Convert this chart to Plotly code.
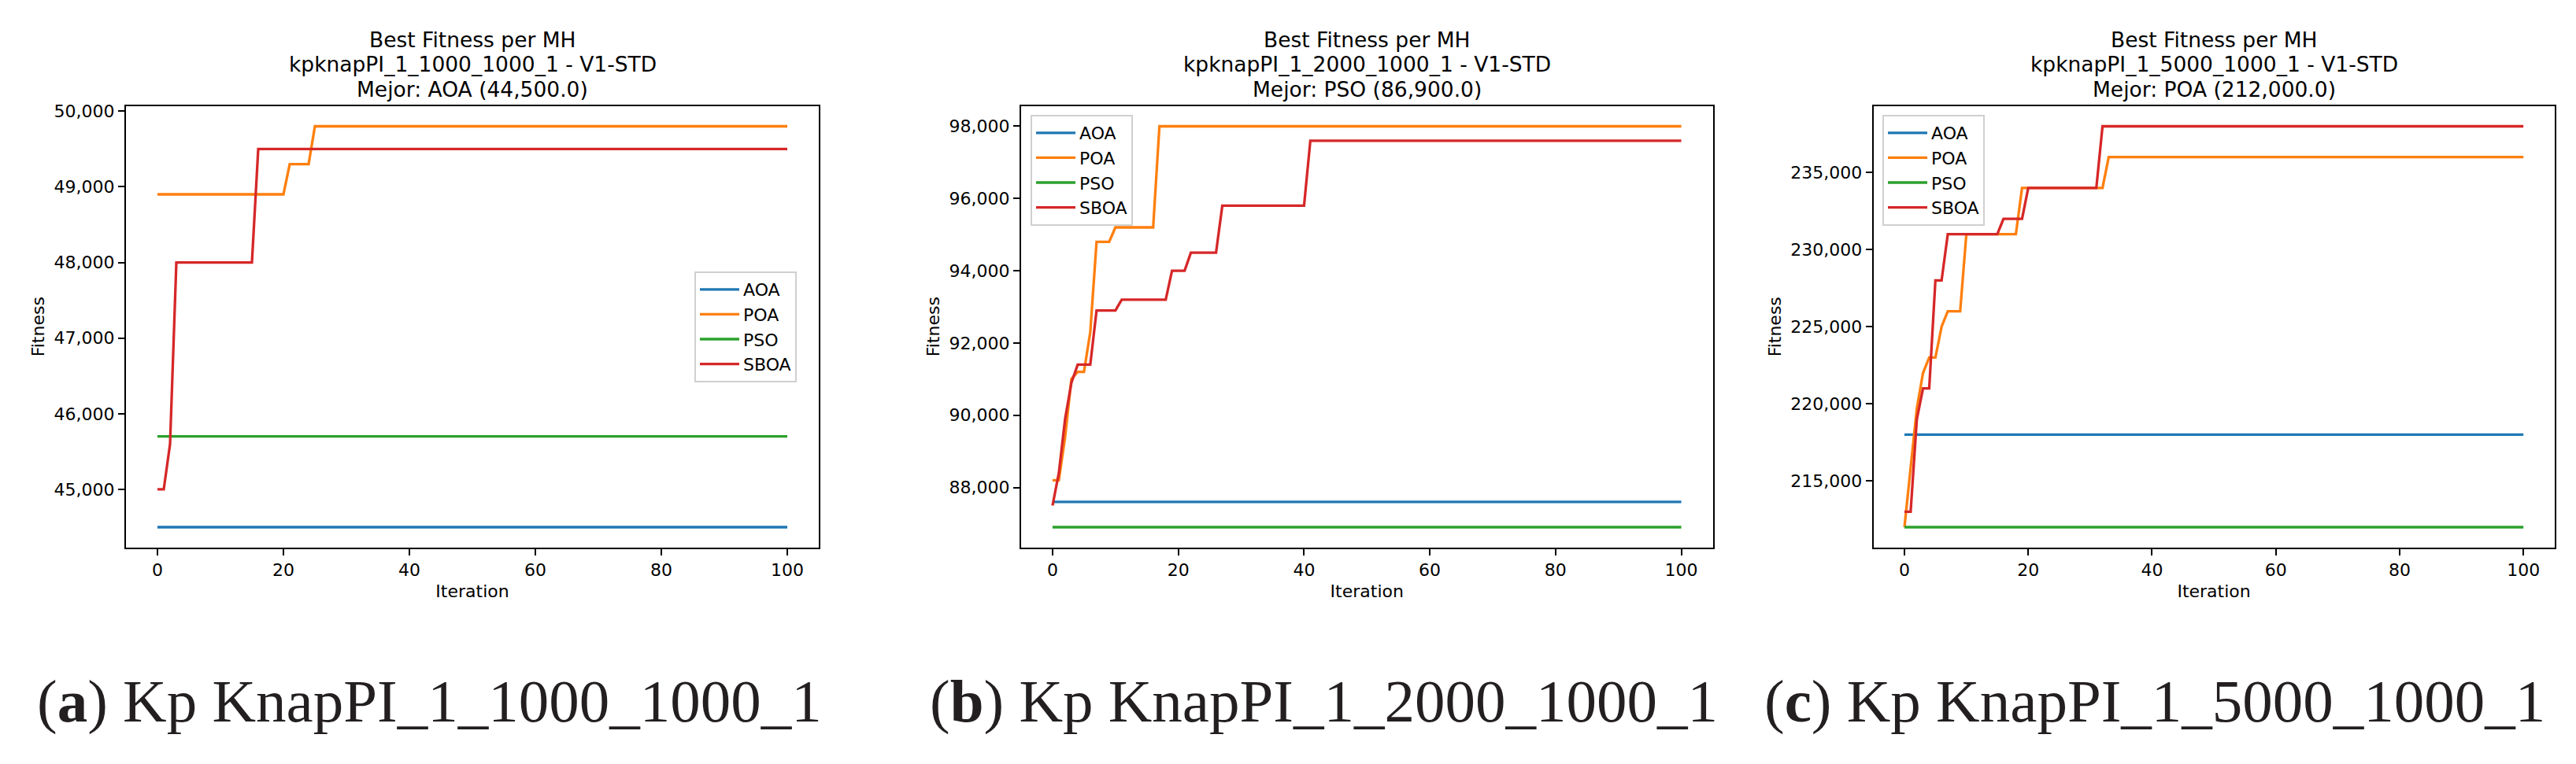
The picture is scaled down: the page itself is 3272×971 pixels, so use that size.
import plotly.graph_objects as go

W, H = 3272, 971

names = ["AOA", "POA", "PSO", "SBOA"]
colors = ["#1f77b4", "#ff7f0e", "#2ca02c", "#d62728"]

# curve vertices (iteration, best fitness)
# (a) kpknapPI_1_1000_1000_1
a_aoa_x = [0, 100]
a_aoa_y = [44500, 44500]
a_poa_x = [0, 20, 21, 24, 25, 100]
a_poa_y = [48900, 48900, 49300, 49300, 49800, 49800]
a_pso_x = [0, 100]
a_pso_y = [45700, 45700]
a_sboa_x = [0, 1, 2, 3, 15, 16, 100]
a_sboa_y = [45000, 45000, 45600, 48000, 48000, 49500, 49500]

# (b) kpknapPI_1_2000_1000_1
b_aoa_x = [0, 100]
b_aoa_y = [87600, 87600]
b_poa_x = [0, 1, 2, 3, 4, 5, 6, 7, 9, 10, 16, 17, 100]
b_poa_y = [88200, 88200, 89400, 91000, 91200, 91200, 92300, 94800, 94800, 95200, 95200, 98000, 98000]
b_pso_x = [0, 100]
b_pso_y = [86900, 86900]
b_sboa_x = [0, 1, 2, 3, 4, 6, 7, 10, 11, 18, 19, 21, 22, 26, 27, 40, 41, 100]
b_sboa_y = [87500, 88400, 89900, 90900, 91400, 91400, 92900, 92900, 93200, 93200,
            94000, 94000, 94500, 94500, 95800, 95800, 97600, 97600]

# (c) kpknapPI_1_5000_1000_1
c_aoa_x = [0, 100]
c_aoa_y = [218000, 218000]
c_poa_x = [0, 1, 2, 3, 4, 5, 6, 7, 9, 10, 18, 19, 32, 33, 100]
c_poa_y = [212000, 215700, 219700, 222000, 223000, 223000, 225000, 226000, 226000,
           231000, 231000, 234000, 234000, 236000, 236000]
c_pso_x = [0, 100]
c_pso_y = [212000, 212000]
c_sboa_x = [0, 1, 2, 3, 4, 5, 6, 7, 15, 16, 19, 20, 31, 32, 100]
c_sboa_y = [213000, 213000, 219000, 221000, 221000, 228000, 228000, 231000, 231000,
            232000, 232000, 234000, 234000, 238000, 238000]

titles = [
    ["Best Fitness per MH", "kpknapPI_1_1000_1000_1 - V1-STD", "Mejor: AOA (44,500.0)"],
    ["Best Fitness per MH", "kpknapPI_1_2000_1000_1 - V1-STD", "Mejor: PSO (86,900.0)"],
    ["Best Fitness per MH", "kpknapPI_1_5000_1000_1 - V1-STD", "Mejor: POA (212,000.0)"],
]
captions = [
    "(<b>a</b>) Kp KnapPI_1_1000_1000_1",
    "(<b>b</b>) Kp KnapPI_1_2000_1000_1",
    "(<b>c</b>) Kp KnapPI_1_5000_1000_1",
]
y_dticks = [1000, 2000, 5000]

panels = [
    [(a_aoa_x, a_aoa_y), (a_poa_x, a_poa_y), (a_pso_x, a_pso_y), (a_sboa_x, a_sboa_y)],
    [(b_aoa_x, b_aoa_y), (b_poa_x, b_poa_y), (b_pso_x, b_pso_y), (b_sboa_x, b_sboa_y)],
    [(c_aoa_x, c_aoa_y), (c_poa_x, c_poa_y), (c_pso_x, c_pso_y), (c_sboa_x, c_sboa_y)],
]

# pixel boxes of the three axes (left, right) and shared top/bottom
x_boxes = [(152, 1032), (1289, 2167.5), (2371.7, 3236.5)]
top_px, bottom_px = 127, 687.5
legend_pos = [(874, 337), (1301, 138), (2383, 138)]
title_rows = [42.5, 74, 105.5]
caption_x = [37, 1171, 2231]

sans = "DejaVu Sans"
fig = go.Figure()
layout = dict(
    width=W, height=H,
    margin=dict(l=0, r=0, t=0, b=0),
    plot_bgcolor="white", paper_bgcolor="white",
    showlegend=True,
    annotations=[],
)

for i, series in enumerate(panels):
    sfx = "" if i == 0 else str(i + 1)
    leg = "legend" if i == 0 else "legend" + str(i + 1)
    for (xs, ys), name, col in zip(series, names, colors):
        fig.add_trace(go.Scatter(x=xs, y=ys, mode="lines", name=name,
                                 line=dict(color=col, width=3.3),
                                 xaxis="x" + sfx, yaxis="y" + sfx, legend=leg))

    # matplotlib-like autoscale: 5% margin around data
    all_y = [v for _, ys in series for v in ys]
    lo, hi = min(all_y), max(all_y)
    pad = 0.05 * (hi - lo)

    x0, x1 = x_boxes[i]
    axis_common = dict(showline=True, linecolor="black", linewidth=2, mirror=True,
                       ticks="outside", ticklen=8, tickwidth=2, tickcolor="black",
                       showgrid=False, zeroline=False, automargin=False,
                       tickfont=dict(family=sans, size=22, color="black"))
    layout["xaxis" + sfx] = dict(axis_common, domain=[x0 / W, x1 / W], anchor="y" + sfx,
                                 range=[-5, 105], tick0=0, dtick=20,
                                 title=dict(text="Iteration", standoff=8,
                                            font=dict(family=sans, size=22, color="black")))
    layout["yaxis" + sfx] = dict(axis_common, domain=[1 - bottom_px / H, 1 - top_px / H],
                                 anchor="x" + sfx, range=[lo - pad, hi + pad],
                                 dtick=y_dticks[i], tickformat=",d",
                                 title=dict(text="Fitness", standoff=6,
                                            font=dict(family=sans, size=22, color="black")))

    lx, ly = legend_pos[i]
    layout[leg] = dict(x=lx / W, y=1 - ly / H, xanchor="left", yanchor="top",
                       bgcolor="rgba(255,255,255,0.8)", bordercolor="#d0d0d0", borderwidth=2,
                       itemwidth=50,
                       font=dict(family=sans, size=22, color="black"))

    for row, line in zip(title_rows, titles[i]):
        layout["annotations"].append(dict(
            text=line, x=(x0 + x1) / 2 / W, y=1 - row / H, xref="paper", yref="paper",
            xanchor="center", yanchor="middle", showarrow=False,
            font=dict(family=sans, size=26.5, color="black")))
    layout["annotations"].append(dict(
        text=captions[i], x=caption_x[i] / W, y=1 - 883 / H, xref="paper", yref="paper",
        xanchor="left", yanchor="middle", showarrow=False,
        font=dict(family="Liberation Serif", size=77, color="#231f20")))

fig.update_layout(**layout)
fig.write_html("out.html")
